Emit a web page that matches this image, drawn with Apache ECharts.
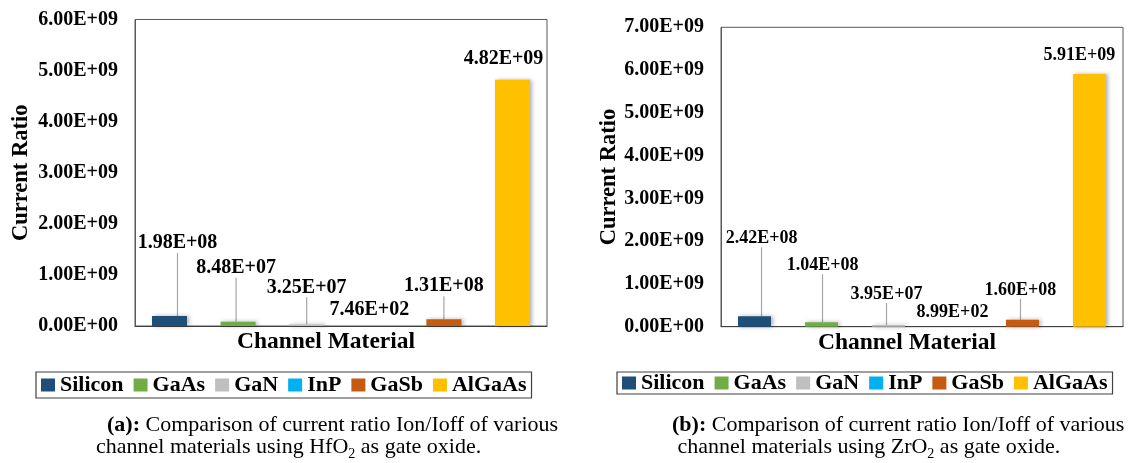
<!DOCTYPE html>
<html>
<head>
<meta charset="utf-8">
<script src="https://cdn.jsdelivr.net/npm/echarts/dist/echarts.min.js"></script>
<style>
  html, body { margin: 0; padding: 0; background: #ffffff; }
  #chart { width: 1142px; height: 463px; }
</style>
</head>
<body>
<div id="chart"></div>
<script>
// ---------- data ----------
const materials = ['Silicon', 'GaAs', 'GaN', 'InP', 'GaSb', 'AlGaAs'];
const ratioHfO2 = [1.98e8, 8.48e7, 3.25e7, 7.46e2, 1.31e8, 4.82e9];
const ratioZrO2 = [2.42e8, 1.04e8, 3.95e7, 8.99e2, 1.60e8, 5.91e9];
const axisMaxHfO2 = 6e9;
const axisMaxZrO2 = 7e9;
const tickStep = 1e9;
const xAxisTitle = 'Channel Material';
const yAxisTitle = 'Current Ratio';

// ---------- style ----------
const colors = ['#1F4E79', '#70AD47', '#BFBFBF', '#00B0F0', '#C55A11', '#FFC000'];
const SERIF = 'Liberation Serif';

// label placement (pixel offsets relative to bar top-centre) and leader line visibility
const layoutCfg = [
  { above: [73, 54, 37, 16, 33, 21], dx: [8, -2, 0, -6, 0, -9], line: [1, 1, 1, 0, 1, 0], labelSize: 20, barWidth: 35, barGap: '96%' },
  { above: [78, 57, 31, 14, 30, 19], dx: [7, 1, -2, -3, -2, -10], line: [1, 1, 1, 0, 1, 0], labelSize: 18, barWidth: 33, barGap: '103%' }
];

function sci(v) {
  const s = Number(v).toExponential(2).split('e');
  const e = parseInt(s[1], 10);
  return s[0] + 'E' + (e < 0 ? '-' : '+') + String(Math.abs(e)).padStart(2, '0');
}

const datasets = [ratioHfO2, ratioZrO2];
const series = [];
datasets.forEach((vals, c) => {
  const cfg = layoutCfg[c];
  materials.forEach((m, i) => {
    series.push({
      type: 'bar',
      name: m,
      xAxisIndex: c,
      yAxisIndex: c,
      data: [vals[i]],
      barWidth: cfg.barWidth,
      barGap: cfg.barGap,
      itemStyle: {
        color: colors[i],
        shadowColor: 'rgba(0,0,0,0.3)',
        shadowBlur: 4,
        shadowOffsetX: 2,
        shadowOffsetY: 0
      },
      label: {
        show: true,
        position: 'top',
        distance: 0,
        formatter: p => sci(p.value),
        fontFamily: SERIF,
        fontWeight: 'bold',
        fontSize: cfg.labelSize,
        color: '#000'
      },
      labelLine: {
        show: !!cfg.line[i],
        lineStyle: { color: '#A6A6A6', width: 1.2 }
      },
      labelLayout: params => ({
        x: params.rect.x + params.rect.width / 2 + cfg.dx[i],
        y: params.rect.y - cfg.above[i],
        align: 'center',
        verticalAlign: 'middle'
      })
    });
  });
});

function yAxisFor(idx, max, gap) {
  return {
    type: 'value', gridIndex: idx, min: 0, max: max, interval: tickStep,
    axisLine: { show: true, lineStyle: { color: '#595959', width: 1 } },
    axisTick: { show: false },
    splitLine: { show: false },
    axisLabel: { formatter: sci, fontFamily: SERIF, fontWeight: 'bold', fontSize: 20, color: '#000', margin: 17 },
    name: yAxisTitle, nameLocation: 'middle', nameGap: gap,
    nameTextStyle: { fontFamily: SERIF, fontWeight: 'bold', fontSize: 22.5, color: '#000' }
  };
}
function xAxisFor(idx) {
  return {
    type: 'category', gridIndex: idx, data: [''],
    axisLine: { show: true, lineStyle: { color: '#404040', width: 1.2 } },
    axisTick: { show: false },
    axisLabel: { show: false },
    name: xAxisTitle, nameLocation: 'middle', nameGap: 4,
    nameTextStyle: { fontFamily: SERIF, fontWeight: 'bold', fontSize: 23.5, color: '#000', padding: [0, 30, 0, 0] }
  };
}
function legendFor(left, pad) {
  return {
    left: left, top: 372, orient: 'horizontal', data: materials, icon: 'rect',
    itemWidth: 14, itemHeight: 13, itemGap: 10, padding: pad,
    borderColor: '#404040', borderWidth: 1.2,
    textStyle: { fontFamily: SERIF, fontWeight: 'bold', fontSize: 22, color: '#000' }
  };
}
const capRich = {
  b: { fontFamily: SERIF, fontWeight: 'bold', fontSize: 22, lineHeight: 22, color: '#000' },
  n: { fontFamily: SERIF, fontWeight: 'normal', fontSize: 22, lineHeight: 22, color: '#000' },
  s: { fontFamily: SERIF, fontWeight: 'normal', fontSize: 14, lineHeight: 14, verticalAlign: 'bottom', padding: [0, 0, -3, 0], color: '#000' }
};

const option = {
  animation: false,
  backgroundColor: '#ffffff',
  color: colors,
  textStyle: { fontFamily: SERIF },
  title: [
    { left: 96, top: 414, padding: 0,
      text: '{n|  }{b|(a):}{n| Comparison of current ratio Ion/Ioff of various}\n{n|channel materials using HfO}{s|2}{n| as gate oxide.}',
      textStyle: { fontWeight: 'normal', fontFamily: SERIF, rich: capRich } },
    { left: 672, top: 414, padding: 0,
      text: '{b|(b):}{n| Comparison of current ratio Ion/Ioff of various}\n{n| channel materials using ZrO}{s|2}{n| as gate oxide.}',
      textStyle: { fontWeight: 'normal', fontFamily: SERIF, rich: capRich } }
  ],
  legend: [legendFor(36, [2, 5, 2, 5]), legendFor(617, [0, 5, 0, 5])],
  grid: [
    { left: 135, top: 19.5, width: 412, height: 306.5, show: true, borderColor: '#595959', borderWidth: 1, backgroundColor: 'transparent' },
    { left: 721, top: 27.3, width: 402, height: 299.4, show: true, borderColor: '#595959', borderWidth: 1, backgroundColor: 'transparent' }
  ],
  xAxis: [xAxisFor(0), xAxisFor(1)],
  yAxis: [yAxisFor(0, axisMaxHfO2, 102), yAxisFor(1, axisMaxZrO2, 99)],
  series: series
};

const chart = echarts.init(document.getElementById('chart'), null, { renderer: 'canvas' });
chart.setOption(option);
</script>
</body>
</html>
